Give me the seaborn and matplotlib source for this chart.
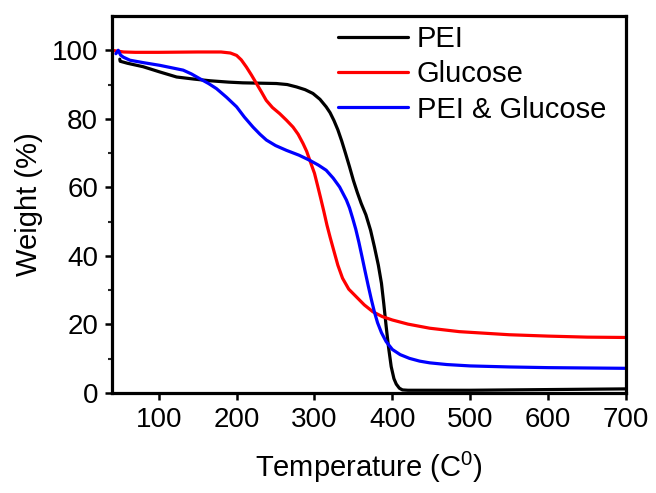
import numpy as np
import pandas as pd
import matplotlib
matplotlib.use("Agg")
import matplotlib.pyplot as plt
import seaborn as sns

# ---- data ----
pei_x = [50, 50.5, 60, 80, 101, 123, 145, 166, 190, 208, 230, 251, 265, 277, 288,
         298, 307, 315, 320, 325, 330, 335, 340, 345, 350, 355, 360, 366, 372,
         377, 382, 386, 389, 392, 395, 398.5, 402, 405, 409, 413, 420, 450, 500,
         600, 700]
pei_y = [97.4, 96.8, 96.2, 95.2, 93.7, 92.2, 91.6, 91.1, 90.7, 90.5, 90.4, 90.3,
         90.0, 89.3, 88.5, 87.4, 85.7, 83.5, 81.8, 79.5, 76.8, 73.5, 69.8, 66.0,
         62.0, 58.5, 55.3, 52.0, 47.5, 42.6, 37.3, 32.0, 26.0, 19.5, 13.5, 7.7,
         4.2, 2.6, 1.4, 0.9, 0.8, 0.8, 0.8, 1.0, 1.2]

glu_x = [40, 45, 55, 70, 100, 150, 180, 192, 200, 206, 212.6, 219, 225.5, 232,
         238, 246, 255.4, 264, 272.4, 279, 285.3, 290, 294, 300, 304, 308, 312,
         316, 320, 324, 330, 336, 344, 354, 364, 375, 387, 400, 420, 448, 486,
         550, 600, 650, 700]
glu_y = [100.0, 99.8, 99.5, 99.4, 99.4, 99.5, 99.5, 99.2, 98.5, 97.2, 95.1, 92.8,
         90.3, 87.8, 85.4, 83.3, 81.5, 79.6, 77.6, 75.5, 72.8, 70.5, 67.9, 64.1,
         60.5, 56.8, 53.0, 49.0, 45.5, 42.2, 37.3, 33.5, 30.3, 28.0, 25.7, 23.7,
         22.3, 21.3, 20.1, 18.9, 17.9, 17.0, 16.6, 16.3, 16.2]

mix_x = [45, 48, 51, 54.5, 63, 80, 101.5, 131.4, 142, 152.8, 164, 174.2, 187,
         200, 210, 221, 230, 238.3, 250, 264, 280, 293.8, 305, 315, 324, 332.3,
         341, 345, 349, 353, 357, 361, 365, 369, 373, 377, 381, 386, 392, 400,
         410, 422, 435, 448, 470, 500, 550, 600, 700]
mix_y = [99.0, 100.0, 98.6, 98.0, 97.1, 96.4, 95.6, 94.2, 93.1, 91.7, 90.3, 88.8,
         86.3, 83.5, 80.5, 77.6, 75.5, 73.8, 72.2, 70.8, 69.4, 67.9, 66.5, 65.0,
         62.7, 60.1, 56.3, 54.0, 51.0, 47.8, 44.0, 39.8, 35.5, 31.3, 27.3, 23.6,
         20.5, 17.6, 15.0, 12.7, 11.2, 10.1, 9.3, 8.8, 8.3, 7.9, 7.6, 7.4, 7.2]

series_names = ["PEI", "Glucose", "PEI & Glucose"]
series_colors = ["#000000", "#ff0000", "#0000ff"]
x_ticks = [100, 200, 300, 400, 500, 600, 700]
y_ticks = [0, 20, 40, 60, 80, 100]

frames = []
for name, xs, ys in zip(series_names, [pei_x, glu_x, mix_x], [pei_y, glu_y, mix_y]):
    frames.append(pd.DataFrame({"T": xs, "W": ys, "sample": name}))
df = pd.concat(frames, ignore_index=True)

sns.set_style("ticks")
plt.rcParams["font.family"] = ["Liberation Sans", "DejaVu Sans"]
plt.rcParams["mathtext.fontset"] = "custom"
plt.rcParams["mathtext.rm"] = "Liberation Sans"
plt.rcParams["mathtext.it"] = "Liberation Sans"
plt.rcParams["mathtext.default"] = "regular"
plt.rcParams["text.color"] = "black"
plt.rcParams["axes.labelcolor"] = "black"
plt.rcParams["lines.solid_capstyle"] = "round"
plt.rcParams["lines.solid_joinstyle"] = "round"

fig = plt.figure(figsize=(6.56, 4.93), dpi=100)
ax = fig.add_axes([112 / 656, 1 - 393 / 493, (626 - 112) / 656, (393 - 16) / 493])

sns.lineplot(data=df, x="T", y="W", hue="sample", hue_order=series_names,
             palette=dict(zip(series_names, series_colors)), sort=False,
             estimator=None, units="sample", linewidth=2.3, ax=ax, legend=True)

ax.set_xlim(40, 700)
ax.set_ylim(0, 110)
ax.set_xticks(x_ticks)
ax.set_yticks(y_ticks)
ax.set_yticks([10, 30, 50, 70, 90], minor=True)
ax.tick_params(axis="both", which="major", direction="out", length=5, width=1.8,
               labelsize=20, pad=5, colors="black")
ax.tick_params(axis="y", which="minor", direction="out", length=3, width=1.5)
for s in ax.spines.values():
    s.set_linewidth(2.3)
    s.set_color("black")

ax.set_xlabel("Temperature (C$^0$)", fontsize=21, labelpad=12)
ax.set_ylabel("Weight (%)", fontsize=21, labelpad=6)

handles, labels = ax.get_legend_handles_labels()
leg = ax.legend(handles, labels, loc="upper left",
                bbox_to_anchor=(338 / 656, 1 - 25 / 493),
                bbox_transform=fig.transFigure, frameon=False, fontsize=21,
                handlelength=2.4, handletextpad=0.3, labelspacing=0.25,
                borderpad=0, borderaxespad=0)
for line in leg.get_lines():
    line.set_linewidth(2.3)

fig.savefig("out.png", dpi=100)
